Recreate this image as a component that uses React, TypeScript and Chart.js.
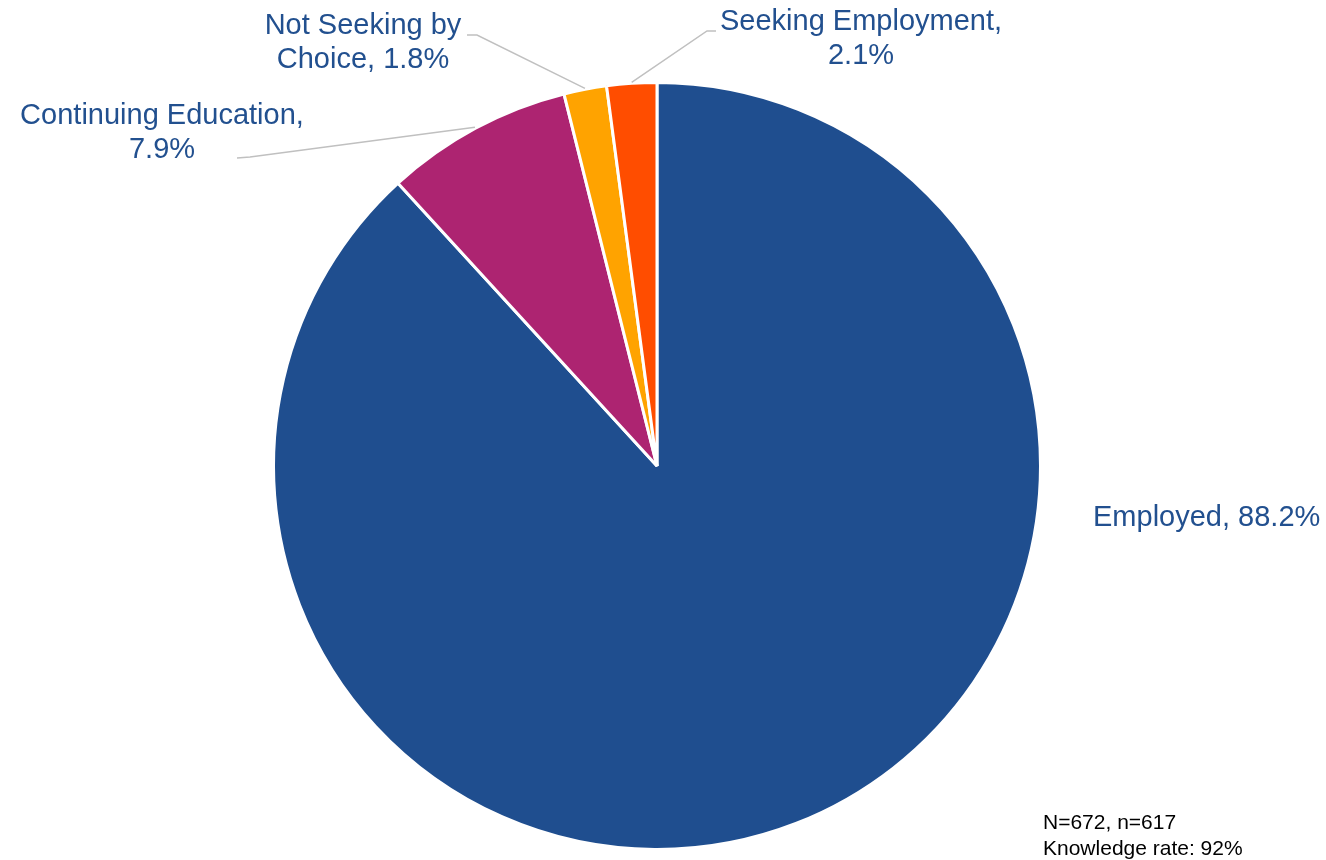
import React, { useEffect, useRef } from "react";
import { Chart, registerables } from "chart.js";

Chart.register(...registerables);

const categories = ["Employed", "Continuing Education", "Not Seeking by Choice", "Seeking Employment"];
const values = [88.2, 7.9, 1.8, 2.1];
const labelLines = [
  ["Employed, 88.2%"],
  ["Continuing Education,", "7.9%"],
  ["Not Seeking by", "Choice, 1.8%"],
  ["Seeking Employment,", "2.1%"],
];
const colors = ["#1F4E8F", "#AD2471", "#FFA300", "#FF4D00"];
const noteLines = ["N=672, n=617", "Knowledge rate: 92%"];

// label placement: text anchor (center x, first line center y), align, elbow point, line end point
const labelPlacement = [
  { x: 1093, y: 518, align: "left", leader: false, elbow: [0, 0], end: [0, 0] },
  { x: 162, y: 116, align: "center", leader: true, elbow: [250, 157], end: [237, 158] },
  { x: 363, y: 26, align: "center", leader: true, elbow: [477, 35], end: [467, 35] },
  { x: 861, y: 22, align: "center", leader: true, elbow: [707, 31], end: [716, 31] },
];

const labelPlugin = {
  id: "pieLabels",
  afterDraw(chart: any) {
    const ctx = chart.ctx;
    const meta = chart.getDatasetMeta(0);
    ctx.save();
    meta.data.forEach((arc: any, i: number) => {
      const p = labelPlacement[i];
      const props = arc.getProps(["x", "y", "startAngle", "endAngle", "outerRadius"], true);
      const mid = (props.startAngle + props.endAngle) / 2;
      const r = props.outerRadius + 1;
      const sx = props.x + Math.cos(mid) * r;
      const sy = props.y + Math.sin(mid) * r;
      if (p.leader) {
        ctx.strokeStyle = "#C0C0C0";
        ctx.lineWidth = 1.5;
        ctx.beginPath();
        ctx.moveTo(sx, sy);
        ctx.lineTo(p.elbow[0], p.elbow[1]);
        ctx.lineTo(p.end[0], p.end[1]);
        ctx.stroke();
      }
      ctx.fillStyle = "#22508F";
      ctx.font = "29px 'Liberation Sans', Arial, sans-serif";
      ctx.textAlign = p.align;
      ctx.textBaseline = "middle";
      labelLines[i].forEach((line, k) => {
        ctx.fillText(line, p.x, p.y + k * 34);
      });
    });
    ctx.fillStyle = "#000000";
    ctx.font = "21px 'Liberation Sans', Arial, sans-serif";
    ctx.textAlign = "left";
    ctx.textBaseline = "middle";
    noteLines.forEach((line, k) => {
      ctx.fillText(line, 1043, 823 + k * 26);
    });
    ctx.restore();
  },
};

export default function App() {
  const ref = useRef<HTMLCanvasElement>(null);
  useEffect(() => {
    if (!ref.current) return;
    const chart = new Chart(ref.current, {
      type: "pie",
      data: {
        labels: categories,
        datasets: [
          {
            data: values,
            backgroundColor: colors,
            borderColor: "#FFFFFF",
            borderWidth: 3,
          },
        ],
      },
      options: {
        responsive: false,
        animation: false,
        layout: { padding: { top: 81, bottom: 9, left: 272, right: 284 } },
        plugins: {
          legend: { display: false },
          tooltip: { enabled: false },
          title: { display: false },
        },
      },
      plugins: [labelPlugin],
    });
    return () => chart.destroy();
  }, []);
  return (
    <div style={{ position: "absolute", left: 0, top: 0, width: 1326, height: 860, background: "#FFFFFF" }}>
      <canvas ref={ref} width={1326} height={860} style={{ display: "block" }} />
    </div>
  );
}
